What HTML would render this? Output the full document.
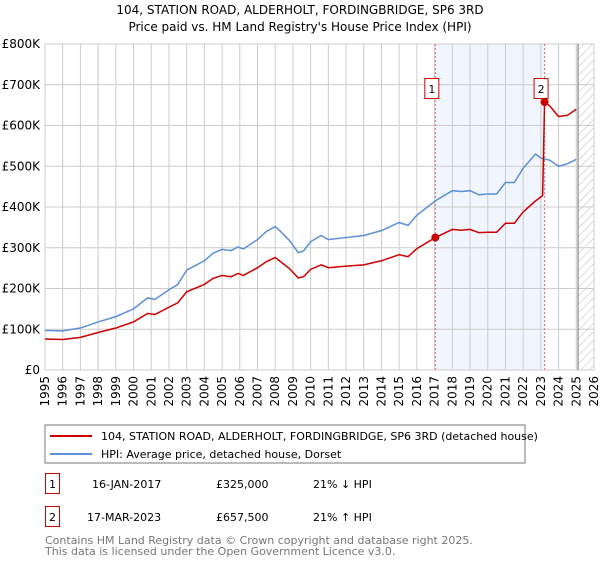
<!DOCTYPE html>
<html><head><meta charset="utf-8"><style>
body{margin:0;background:#fff;font-family:"Liberation Sans","DejaVu Sans",sans-serif;}
svg text{font-family:"DejaVu Sans","Liberation Sans",sans-serif;}
</style></head><body>
<svg id="c" width="600" height="560" xmlns="http://www.w3.org/2000/svg">
<defs><pattern id="hatch" width="6" height="6" patternUnits="userSpaceOnUse" patternTransform="rotate(45)"><line x1="0" y1="0" x2="0" y2="6" stroke="#bbb" stroke-width="1"/></pattern></defs>
<text x="300" y="14" text-anchor="middle" font-size="12">104, STATION ROAD, ALDERHOLT, FORDINGBRIDGE, SP6 3RD</text>
<text x="300" y="31" text-anchor="middle" font-size="12">Price paid vs. HM Land Registry's House Price Index (HPI)</text>
<g id="grid"></g><g id="marks"></g><g id="axes"></g>
<rect x="45" y="425" width="480" height="38" fill="#fff" stroke="#777"/>
<line x1="50" y1="436" x2="92" y2="436" stroke="#cc0000" stroke-width="2"/>
<text x="101" y="440" font-size="11">104, STATION ROAD, ALDERHOLT, FORDINGBRIDGE, SP6 3RD (detached house)</text>
<line x1="50" y1="454" x2="92" y2="454" stroke="#5b8fd6" stroke-width="2"/>
<text x="101" y="458" font-size="11">HPI: Average price, detached house, Dorset</text>
<rect x="45.5" y="473.5" width="14" height="20" fill="#fff" stroke="#cc0000"/>
<text x="52.5" y="488" font-size="11" text-anchor="middle">1</text>
<text x="92" y="488" font-size="11">16-JAN-2017</text>
<text x="216" y="488" font-size="11">£325,000</text>
<text x="313" y="488" font-size="11">21% ↓ HPI</text>
<rect x="45.5" y="506.5" width="14" height="20" fill="#fff" stroke="#cc0000"/>
<text x="52.5" y="521" font-size="11" text-anchor="middle">2</text>
<text x="87" y="521" font-size="11">17-MAR-2023</text>
<text x="216" y="521" font-size="11">£657,500</text>
<text x="313" y="521" font-size="11">21% ↑ HPI</text>
<text x="45" y="544" font-size="11" fill="#777">Contains HM Land Registry data © Crown copyright and database right 2025.</text>
<text x="45" y="555" font-size="11" fill="#777">This data is licensed under the Open Government Licence v3.0.</text>
</svg>
<script>
const times=[1995,1996,1997,1998,1999,2000,2000.8,2001.2,2002,2002.5,2003,2004,2004.5,2005,2005.5,2005.9,2006.2,2007,2007.5,2008,2008.3,2008.8,2009.3,2009.6,2010,2010.6,2011,2012,2013,2014,2015,2015.5,2016,2017.04,2018,2018.5,2019,2019.5,2020,2020.5,2021,2021.5,2022,2022.7,2023,2023.5,2024,2024.5,2025];
const hpiValues=[97,96,103,118,131,150,177,173,197,210,245,268,287,296,293,302,297,320,340,352,340,318,288,292,315,330,320,325,330,342,362,355,380,415,440,438,440,430,432,432,460,460,495,530,520,515,500,506,517];
const priceTimes=[1995,1996,1997,1998,1999,2000,2000.8,2001.2,2002,2002.5,2003,2004,2004.5,2005,2005.5,2005.9,2006.2,2007,2007.5,2008,2008.3,2008.8,2009.3,2009.6,2010,2010.6,2011,2012,2013,2014,2015,2015.5,2016,2017.04,2018,2018.5,2019,2019.5,2020,2020.5,2021,2021.5,2022,2022.7,2023.1,2023.21,2023.5,2024,2024.5,2025];
const priceValues=[76,75,80,92,103,118,139,136,154,165,192,210,225,232,229,237,232,251,266,276,266,249,226,229,247,258,251,255,258,268,283,278,298,325,345,343,345,337,338,338,360,360,388,415,428,657.5,648,622,625,640];
const saleTimes=[2017.04,2023.21];
const saleValues=[325,657.5];
const saleLabels=["1","2"];
const yTicks=[0,100,200,300,400,500,600,700,800];
const yTickLabels=["£0","£100K","£200K","£300K","£400K","£500K","£600K","£700K","£800K"];
const xTicks=[1995,1996,1997,1998,1999,2000,2001,2002,2003,2004,2005,2006,2007,2008,2009,2010,2011,2012,2013,2014,2015,2016,2017,2018,2019,2020,2021,2022,2023,2024,2025,2026];
const NS="http://www.w3.org/2000/svg";
const X=t=>45+(t-1995)*(549/31);
const Y=v=>370-v*(326/800);
function mk(tag,attrs,parent){const e=document.createElementNS(NS,tag);for(const k in attrs)e.setAttribute(k,attrs[k]);document.getElementById(parent).appendChild(e);return e;}
let r=mk('rect',{x:X(saleTimes[0]),y:Y(800),width:X(saleTimes[1])-X(saleTimes[0]),height:Y(0)-Y(800),fill:'#eef3fc',opacity:0.8},'grid');


let h=mk('rect',{x:X(2025.1),y:Y(800),width:X(2026)-X(2025.1),height:Y(0)-Y(800),fill:'url(#hatch)'},'grid');


yTicks.forEach((v,i)=>{
 let l=mk('line',{x1:45,x2:X(2026),y1:Y(v),y2:Y(v),stroke:'#ccc'},'grid');
 
 
 let t=mk('text',{x:40,y:Y(v)+4,'text-anchor':'end','font-size':12},'axes');t.textContent=yTickLabels[i];
 
 
});
xTicks.forEach(y=>{
 let l=mk('line',{x1:X(y),x2:X(y),y1:Y(800),y2:Y(0),stroke:'#ccc'},'grid');
 
 
 let t=mk('text',{x:X(y)+4,y:376,'text-anchor':'end','font-size':12,transform:`rotate(-90 ${X(y)+4} 376)`},'axes');t.textContent=y;
 
 
});
let nv=mk('line',{x1:X(2025.1),x2:X(2025.1),y1:Y(800),y2:Y(0),stroke:'#888','stroke-width':1.2},'grid');


saleTimes.forEach((t,i)=>{
 let l=mk('line',{x1:X(t),x2:X(t),y1:Y(800),y2:Y(0),stroke:'#e66','stroke-dasharray':'2,2'},'grid');
 
 
});
let p1=mk('polyline',{points:times.map((t,i)=>X(t)+','+Y(hpiValues[i])).join(' '),fill:'none',stroke:'#5b8fd6','stroke-width':1.5},'marks');


let p2=mk('polyline',{points:priceTimes.map((t,i)=>X(t)+','+Y(priceValues[i])).join(' '),fill:'none',stroke:'#cc0000','stroke-width':1.5},'marks');


saleTimes.forEach((t,i)=>{
 let c=mk('circle',{cx:X(t),cy:Y(saleValues[i]),r:4,fill:'#cc0000'},'marks');
 
 
 let b=mk('rect',{x:X(t)-10.5,y:78.5,width:14,height:20,fill:'#fff',stroke:'#cc0000'},'marks');
 
 
 let tx=mk('text',{x:X(t)-3.5,y:93,'text-anchor':'middle','font-size':11},'marks');tx.textContent=saleLabels[i];
 
 
});
</script>
</body></html>
